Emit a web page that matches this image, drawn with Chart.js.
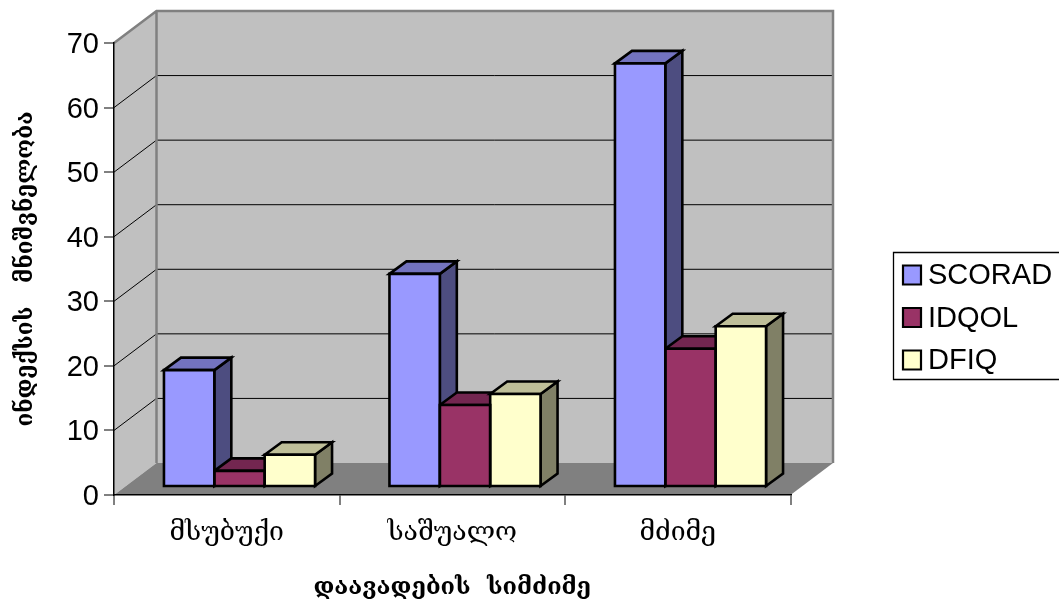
<!DOCTYPE html>
<html lang="ka">
<head>
<meta charset="UTF-8">
<title>დაავადების სიმძიმე</title>
<script src="https://cdn.jsdelivr.net/npm/chart.js"></script>
<style>
    html, body { margin: 0; padding: 0; background: #fff; overflow: hidden; }
    canvas { display: block; }
</style>
</head>
<body>
<canvas id="chart" width="1059" height="605"></canvas>
<script>
// data
const categories = ['მსუბუქი', 'საშუალო', 'მძიმე'];
const seriesNames = ['SCORAD', 'IDQOL', 'DFIQ'];
const scorad = [18.1, 33, 65.6];
const idqol = [2.5, 12.7, 21.4];
const dfiq = [5, 14.4, 24.9];
const yTitle = 'ინდექსის   მნიშვნელობა';
const xTitle = 'დაავადების  სიმძიმე';

// colours: front, top, side
const fronts = ['#9999ff', '#993366', '#ffffcc'];
const tops = ['#7373bf', '#732650', '#bfbf99'];
const sides = ['#4d4d80', '#4d1a33', '#808066'];

// fake 3D: box depth, and where the bars sit inside it
const wallDx = 42.5, wallDy = -32;
const barShiftX = 12.75, barShiftY = -8;
const barDx = 17, barDy = -12.5;
const latin = '"Liberation Sans", Arial, sans-serif';
const georgian = '"DejaVu Serif", "DejaVu Sans", serif';

function poly(ctx, pts, fill, stroke, lw) {
    ctx.beginPath();
    pts.forEach((p, i) => i ? ctx.lineTo(p[0], p[1]) : ctx.moveTo(p[0], p[1]));
    ctx.closePath();
    if (fill) { ctx.fillStyle = fill; ctx.fill(); }
    if (stroke) { ctx.strokeStyle = stroke; ctx.lineWidth = lw; ctx.lineJoin = 'miter'; ctx.stroke(); }
}

const box3d = {
    id: 'box3d',
    // walls, floor and gridlines go under the axes
    beforeDraw(chart) {
        const { ctx, chartArea: a, scales } = chart;
        const l = a.left, r = a.right, t = a.top, b = a.bottom;
        ctx.save();
        poly(ctx, [[l, t], [l + wallDx, t + wallDy], [l + wallDx, b + wallDy], [l, b]], '#c0c0c0');
        poly(ctx, [[l + wallDx, t + wallDy], [r + wallDx, t + wallDy], [r + wallDx, b + wallDy], [l + wallDx, b + wallDy]], '#c0c0c0');
        poly(ctx, [[l, b], [l + wallDx, b + wallDy], [r + wallDx, b + wallDy], [r, b]], '#808080');
        ctx.strokeStyle = '#000';
        ctx.lineWidth = 1;
        scales.y.ticks.forEach(tick => {
            if (tick.value === 0 || tick.value === 70) return;
            const y = scales.y.getPixelForValue(tick.value);
            ctx.beginPath();
            ctx.moveTo(l, y);
            ctx.lineTo(l + wallDx, y + wallDy);
            ctx.lineTo(r + wallDx, y + wallDy);
            ctx.stroke();
        });
        // wall outline
        ctx.strokeStyle = '#808080';
        ctx.lineWidth = 2.5;
        ctx.beginPath();
        ctx.moveTo(l, t);
        ctx.lineTo(l + wallDx, t + wallDy);
        ctx.lineTo(r + wallDx, t + wallDy);
        ctx.lineTo(r + wallDx, b + wallDy);
        ctx.moveTo(l + wallDx, t + wallDy);
        ctx.lineTo(l + wallDx, b + wallDy);
        ctx.stroke();
        ctx.restore();
    },
    // tops and sides first, so the next bar's front can cover them
    beforeDatasetsDraw(chart) {
        const { ctx } = chart;
        ctx.save();
        categories.forEach((c, i) => {
            chart.data.datasets.forEach((d, k) => {
                const bar = chart.getDatasetMeta(k).data[i];
                const x0 = bar.x - bar.width / 2 + barShiftX;
                const x1 = bar.x + bar.width / 2 + barShiftX;
                const y0 = bar.y + barShiftY;
                const y1 = bar.base + barShiftY;
                poly(ctx, [[x1, y0], [x1 + barDx, y0 + barDy], [x1 + barDx, y1 + barDy], [x1, y1]], sides[k], '#000', 2.6);
                poly(ctx, [[x0, y0], [x0 + barDx, y0 + barDy], [x1 + barDx, y0 + barDy], [x1, y0]], tops[k], '#000', 2.6);
            });
        });
        ctx.restore();
        ctx.save();
        ctx.translate(barShiftX, barShiftY);
    },
    afterDatasetsDraw(chart) {
        const { ctx } = chart;
        ctx.restore();
        ctx.save();
        chart.data.datasets.forEach((d, k) => {
            chart.getDatasetMeta(k).data.forEach(bar => {
                const x0 = bar.x - bar.width / 2 + barShiftX;
                const x1 = bar.x + bar.width / 2 + barShiftX;
                poly(ctx, [[x0, bar.y + barShiftY], [x1, bar.y + barShiftY], [x1, bar.base + barShiftY], [x0, bar.base + barShiftY]], null, '#000', 2.6);
            });
        });
        ctx.restore();
    },
    // legend box runs off the right edge like the original
    afterDraw(chart) {
        const { ctx } = chart;
        ctx.save();
        poly(ctx, [[893.5, 252.5], [1070, 252.5], [1070, 379.5], [893.5, 379.5]], '#fff', '#000', 1.3);
        ctx.font = '29px ' + latin;
        ctx.textBaseline = 'middle';
        chart.data.datasets.forEach((d, k) => {
            const y = 275 + k * 42.5;
            poly(ctx, [[903, y - 9.5], [921, y - 9.5], [921, y + 9.5], [903, y + 9.5]], fronts[k], '#000', 2.2);
            ctx.fillStyle = '#000';
            ctx.fillText(d.label, 928, y + 1);
        });
        ctx.restore();
    }
};

new Chart(document.getElementById('chart'), {
    type: 'bar',
    data: {
        labels: categories,
        datasets: [
            { label: seriesNames[0], data: scorad, backgroundColor: fronts[0] },
            { label: seriesNames[1], data: idqol, backgroundColor: fronts[1] },
            { label: seriesNames[2], data: dfiq, backgroundColor: fronts[2] }
        ]
    },
    plugins: [box3d],
    options: {
        responsive: false,
        animation: false,
        events: [],
        categoryPercentage: 0.67,
        barPercentage: 1,
        layout: { padding: { left: 0, right: 268.5, top: 43, bottom: 0 } },
        plugins: { legend: { display: false }, tooltip: { enabled: false } },
        scales: {
            x: {
                afterFit(s) { s.height = 110; },
                border: { color: '#000', width: 1.5 },
                grid: { drawOnChartArea: false, color: '#808080', lineWidth: 2, tickLength: 10 },
                ticks: { color: '#000', padding: 12, font: { family: georgian, size: 26.6 } },
                title: { display: true, text: xTitle, color: '#000', padding: { top: 0, bottom: 3 }, font: { family: georgian, size: 23.5, weight: 'bold' } }
            },
            y: {
                min: 0,
                max: 70,
                afterFit(s) { s.width = 114; },
                border: { color: '#000', width: 1.5 },
                grid: { drawOnChartArea: false, color: '#808080', lineWidth: 2, tickLength: 10 },
                ticks: { stepSize: 10, color: '#000', padding: 5, labelOffset: 2, font: { family: latin, size: 29 } },
                title: { display: true, text: yTitle, color: '#000', padding: { top: 13, bottom: 0 }, font: { family: georgian, size: 22.5, weight: 'bold' } }
            }
        }
    }
});
</script>
</body>
</html>
